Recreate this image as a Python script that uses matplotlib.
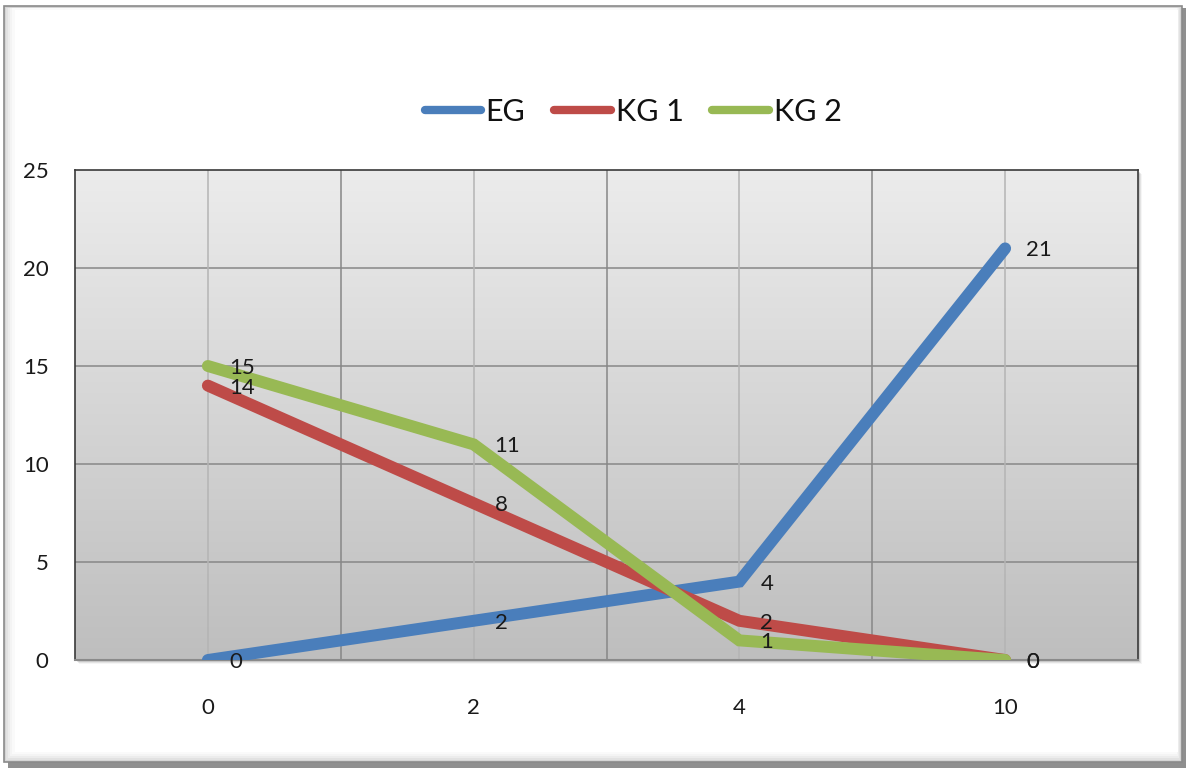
import numpy as np
import matplotlib
matplotlib.use("Agg")
import matplotlib.pyplot as plt
from matplotlib.patches import Rectangle
from matplotlib.lines import Line2D

categories = ["0", "2", "4", "10"]
series_names = ["EG", "KG 1", "KG 2"]
eg = [0, 2, 4, 21]
kg1 = [14, 8, 2, 0]
kg2 = [15, 11, 1, 0]
y_ticks = [0, 5, 10, 15, 20, 25]

colors = ["#4A7EBB", "#BE4B48", "#98B954"]

plt.rcParams['font.family'] = ['Lato', 'DejaVu Sans']

W, H = 1186, 768
fig = plt.figure(figsize=(W / 100, H / 100), dpi=100)
fig.patch.set_facecolor("white")


def frect(x0, y0, x1, y1, **kw):
    """rectangle in pixel coords (top-left origin)"""
    fig.patches.append(Rectangle((x0 / W, (H - y1) / H), (x1 - x0) / W, (y1 - y0) / H,
                                 transform=fig.transFigure, **kw))


# outer chart frame with bevel / shadow
frect(8, 8, 1186, 768, facecolor="#8f8f8f", edgecolor="none", zorder=0)
frect(4, 6, 1182, 762, facecolor="#d4d4d4", edgecolor="#8a8a8a", linewidth=1.2, zorder=0.1)
shades = ["#e2e2e2", "#ececec", "#f4f4f4", "#fafafa"]
for i, s in enumerate(shades):
    frect(6 + 2 * i, 8, 1180 - i, 760 - 2 * i, facecolor=s, edgecolor="none", zorder=0.2 + i * 0.01)
frect(15, 10, 1178, 752, facecolor="white", edgecolor="none", zorder=0.3)

left, right, top, bottom = 75, 1138, 170, 660
# plot area shadow
for i, a in enumerate([0.10, 0.07, 0.04]):
    frect(left + 2 + i, top + 2 + i, right + 2 + i, bottom + 2 + i,
          facecolor="black", alpha=a, edgecolor="none", zorder=0.5)

ax = fig.add_axes([left / W, (H - bottom) / H, (right - left) / W, (bottom - top) / H])
ax.set_zorder(2)

x = np.arange(len(categories))
ax.set_xlim(-0.5, len(categories) - 0.5)
ax.set_ylim(0, 25)

# gradient background
grad = np.linspace(0, 1, 256).reshape(-1, 1)
top_c = np.array([0.925, 0.925, 0.925])
bot_c = np.array([0.745, 0.745, 0.745])
img = (top_c + (bot_c - top_c) * grad).reshape(256, 1, 3)
img = np.repeat(img, 2, axis=1)
ax.imshow(img, extent=(-0.5, len(categories) - 0.5, 0, 25), origin="upper",
          aspect="auto", zorder=0, interpolation="bilinear")

# gridlines
for yv in y_ticks[1:-1]:
    ax.axhline(yv, color="#878787", lw=1.1, zorder=1)
for xv in x:
    ax.axvline(xv, color="#b4b4b4", lw=1.1, zorder=1)
for xv in x[:-1] + 0.5:
    ax.axvline(xv, color="#878787", lw=1.1, zorder=1)

for vals, name, c in zip([eg, kg1, kg2], series_names, colors):
    ax.plot(x, vals, color=c, lw=8.6, solid_capstyle="round", solid_joinstyle="miter",
            label=name, zorder=3)

for vals in [eg, kg1, kg2]:
    for xi, v in zip(x, vals):
        ax.annotate(str(v), (xi, v), xytext=(21, -2), textcoords="offset pixels",
                    ha="left", va="center", fontsize=16, color="#1a1a1a", zorder=5)

ax.set_xticks(x)
ax.set_xticklabels(categories)
ax.set_yticks(y_ticks)
ax.tick_params(axis="both", length=0, labelsize=16, colors="#1a1a1a")
ax.tick_params(axis="x", pad=27)
ax.tick_params(axis="y", pad=19)

for s in ["left", "top", "right"]:
    ax.spines[s].set_color("#3a3a3a")
    ax.spines[s].set_linewidth(1.2)
ax.spines["bottom"].set_color("#8a8a8a")
ax.spines["bottom"].set_linewidth(1.5)

handles = [Line2D([0], [0], color=c, lw=6, solid_capstyle="round") for c in colors]
fig.legend(handles, series_names, loc="center", bbox_to_anchor=(633 / W, (H - 112) / H),
           ncol=3, frameon=False, fontsize=22, handlelength=1.85, handletextpad=0.15,
           columnspacing=0.95, labelcolor="#111111")

fig.savefig("out.png", dpi=100)
